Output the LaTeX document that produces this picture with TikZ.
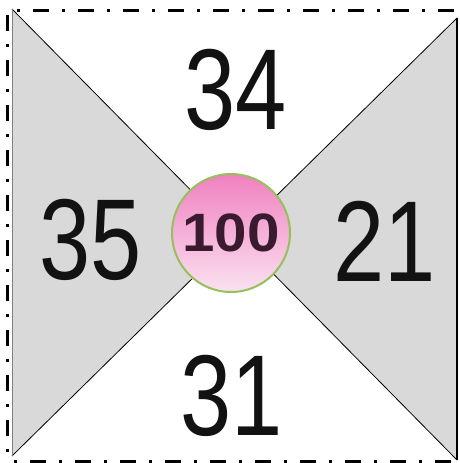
\documentclass[tikz,border=0pt]{standalone}
\usepackage{fontspec}
\setmainfont{Liberation Sans}
\newfontfamily\digitfont[FakeStretch=0.8]{Liberation Sans}
\newfontfamily\hubfont[FakeStretch=1.08]{Liberation Sans}
\usetikzlibrary{calc}
\definecolor{qgray}{RGB}{217,217,217}
\definecolor{qedge}{RGB}{128,128,128}
\definecolor{qpinktop}{RGB}{240,128,192}
\definecolor{qpinkbot}{RGB}{250,226,240}
\definecolor{qgreen}{RGB}{150,192,92}
\definecolor{qink}{RGB}{18,18,18}
\definecolor{qhub}{RGB}{58,26,46}
\tikzset{
  frame/.style={line width=3pt, dash pattern=on 16pt off 13pt on 3pt off 13pt},
  wedge/.style={fill=qgray},
  diag/.style={draw=black, line width=0.8pt},
  number/.style={inner sep=0pt, text=qink, font=\digitfont\fontsize{115}{115}\selectfont},
  hub/.style={circle, minimum size=118pt, inner sep=0pt, draw=qgreen, line width=2pt, top color=qpinktop, bottom color=qpinkbot, text=qhub, font=\hubfont\fontsize{54}{54}\selectfont\bfseries}
}
\begin{document}
\begin{tikzpicture}[x=1pt, y=-1pt]
\useasboundingbox (0,0) rectangle (459,463);
\coordinate (tl) at (12,9);
\coordinate (tr) at (457,18);
\coordinate (bl) at (12,456);
\coordinate (br) at (457,460);
\coordinate (mid) at (intersection of tl--br and tr--bl);
\fill[wedge] (tl) -- (mid) -- (bl) -- cycle;
\fill[wedge] (tr) -- (mid) -- (br) -- cycle;
\draw[diag] (tl) -- (br);
\draw[diag] (tr) -- (bl);
\draw[qedge, line width=1pt] (tl) -- (bl);
\draw[black, line width=1.2pt] (tr) -- (br);
\draw[frame, dash phase=24pt] (12,10.5) -- (459,10.5);
\draw[frame, dash phase=39pt] (7.5,9) -- (7.5,463);
\draw[frame, dash phase=24pt] (9,461.5) -- (459,461.5);
\node[number] (top) at (236,90) {34};
\node[number] (left) at (91,240) {35};
\node[number] (right) at (385,241) {21};
\node[number] (bottom) at (232,396) {31};
\node[hub] (hub) at (231,233) {100};
\end{tikzpicture}
\end{document}
